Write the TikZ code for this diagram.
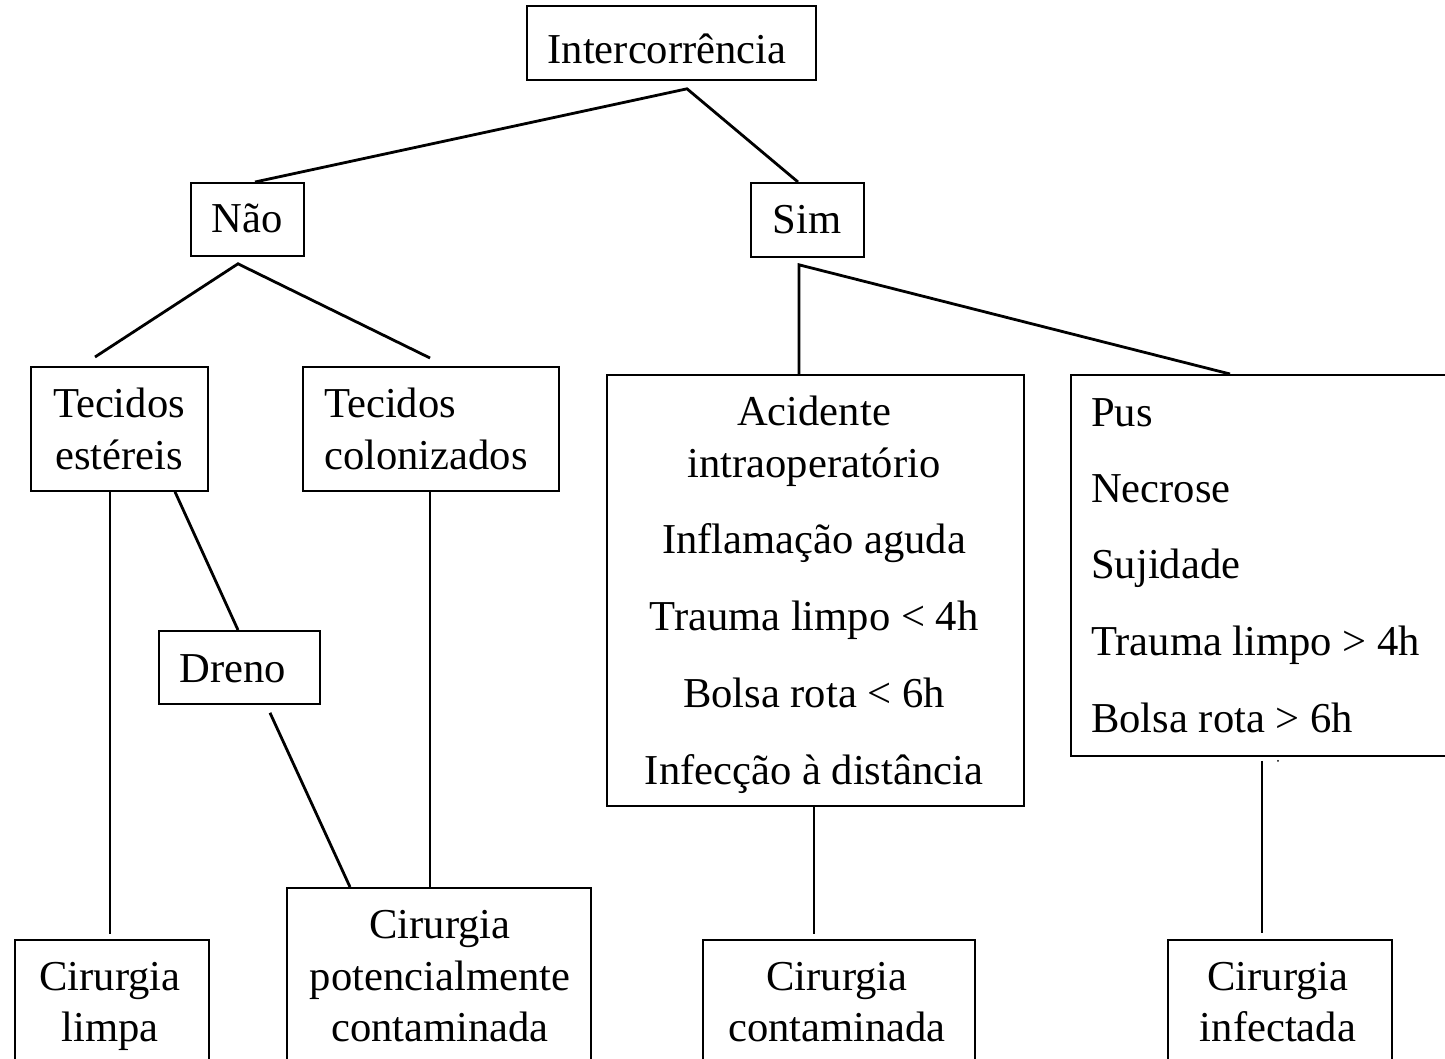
\documentclass[tikz,border=0pt]{standalone}
\usepackage{fontspec}
\setmainfont{Liberation Serif}
\usetikzlibrary{calc}
\begin{document}
\begin{tikzpicture}[x=1pt,y=-1pt,
  box/.style={draw,line width=1.8pt,rectangle,inner sep=0pt,anchor=north west},
  lbl/.style={inner sep=0pt,anchor=base,font=\fontsize{42.6}{53}\selectfont},
  lbll/.style={inner sep=0pt,anchor=base west,font=\fontsize{42.6}{53}\selectfont},
  link/.style={line width=2.8pt}]
\useasboundingbox (0,0) rectangle (1445,1058);
\clip (0,0) rectangle (1445,1058);
% boxes (north west corner, width, height)
\node[box,minimum width=289pt,minimum height=74pt] (inter) at (526,5) {};
\node[box,minimum width=113pt,minimum height=73pt] (nao) at (190,182) {};
\node[box,minimum width=113pt,minimum height=74pt] (sim) at (750,182) {};
\node[box,minimum width=177pt,minimum height=124pt] (est) at (30,366) {};
\node[box,minimum width=256pt,minimum height=124pt] (col) at (302,366) {};
\node[box,minimum width=161pt,minimum height=73pt] (dreno) at (158,630) {};
\node[box,minimum width=417pt,minimum height=431pt] (acid) at (606,374) {};
\node[box,minimum width=420pt,minimum height=381pt] (infl) at (1070,374) {};
\node[box,minimum width=194pt,minimum height=160pt] (limpa) at (14,939) {};
\node[box,minimum width=304pt,minimum height=210pt] (pot) at (286,887) {};
\node[box,minimum width=272pt,minimum height=160pt] (cont) at (702,939) {};
\node[box,minimum width=224pt,minimum height=160pt] (infc) at (1167,939) {};
% texts
\node[lbl] (tInter) at (667,63) {Intercorrência};
\node[lbl] (tNao) at (247,232) {Não};
\node[lbl] (tSim) at (807,233) {Sim};
\node[lbl] (tEst1) at (119,417) {Tecidos};
\node[lbl] (tEst2) at (119,469) {estéreis};
\node[lbll] (tCol1) at (324,417) {Tecidos};
\node[lbll] (tCol2) at (324,469) {colonizados};
\node[lbl] (tDreno) at (233,682) {Dreno};
\node[lbl] (tA1) at (814,425) {Acidente};
\node[lbl] (tA2) at (814,477) {intraoperatório};
\node[lbl] (tA3) at (814,553) {Inflamação aguda};
\node[lbl] (tA4) at (814,630) {Trauma limpo < 4h};
\node[lbl] (tA5) at (814,707) {Bolsa rota < 6h};
\node[lbl] (tA6) at (814,784) {Infecção à distância};
\node[lbll] (tB1) at (1091,426) {Pus};
\node[lbll] (tB2) at (1091,502) {Necrose};
\node[lbll] (tB3) at (1091,578) {Sujidade};
\node[lbll] (tB4) at (1091,655) {Trauma limpo > 4h};
\node[lbll] (tB5) at (1091,732) {Bolsa rota > 6h};
\node[lbl] (tL1) at (110,990) {Cirurgia};
\node[lbl] (tL2) at (110,1041) {limpa};
\node[lbl] (tP1) at (440,938) {Cirurgia};
\node[lbl] (tP2) at (440,990) {potencialmente};
\node[lbl] (tP3) at (440,1041) {contaminada};
\node[lbl] (tC1) at (837,990) {Cirurgia};
\node[lbl] (tC2) at (837,1041) {contaminada};
\node[lbl] (tI1) at (1278,990) {Cirurgia};
\node[lbl] (tI2) at (1278,1041) {infectada};
% connectors
\coordinate (apexInter) at ($(inter.south west)+(161,8)$);
\coordinate (apexNao) at ($(nao.south west)+(48,7)$);
\coordinate (apexSim) at ($(sim.south west)+(49,7)$);
\draw[link] ($(nao.north west)+(65,0)$) -- (apexInter) -- ($(sim.north west)+(48,0)$);
\draw[link] ($(est.north west)+(65,-9)$) -- (apexNao) -- ($(col.north west)+(128,-8)$);
\draw[link] ($(acid.north west)+(193,0)$) -- (apexSim) -- ($(infl.north west)+(160,0)$);
\draw[link] ($(est.south west)+(80,0)$) -- ($(limpa.north west)+(96,-5)$);
\draw[link] ($(est.south west)+(145,0)$) -- ($(dreno.north west)+(80,0)$);
\draw[link] ($(dreno.south west)+(112,8)$) -- ($(pot.north west)+(64,0)$);
\draw[link] ($(col.south west)+(128,0)$) -- ($(pot.north west)+(144,0)$);
\draw[link] ($(acid.south west)+(208,0)$) -- ($(cont.north west)+(112,-5)$);
\draw[link] ($(infl.south west)+(192,4)$) -- ($(infc.north west)+(95,-6)$);
\fill ($(infl.south west)+(208,4)$) circle (1pt);
\end{tikzpicture}
\end{document}
